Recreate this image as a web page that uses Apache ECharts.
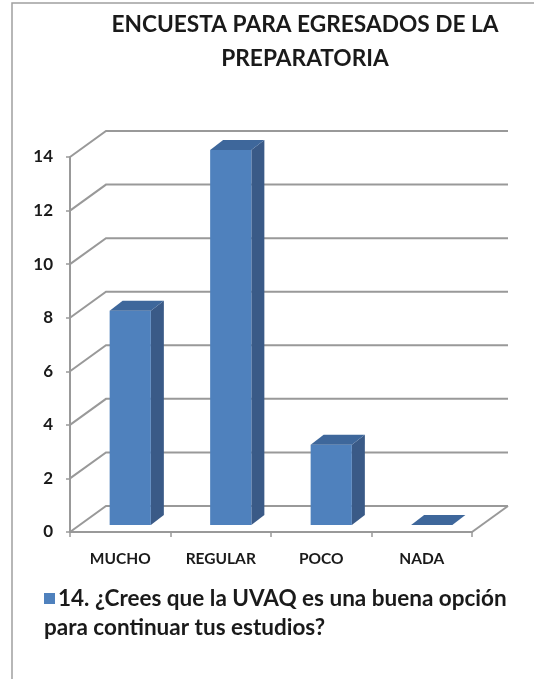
<!DOCTYPE html>
<html>
<head>
<meta charset="utf-8">
<script src="https://cdn.jsdelivr.net/npm/echarts@6/dist/echarts.min.js"></script>
<style>
html,body{margin:0;padding:0;background:#fff;}
#chart{width:534px;height:679px;}
</style>
</head>
<body>
<div id="chart"></div>
<script>
var titleLines = ['ENCUESTA PARA EGRESADOS DE LA', 'PREPARATORIA'];
var categories = ['MUCHO', 'REGULAR', 'POCO', 'NADA'];
var values = [8, 14, 3, 0];
var yTicks = [0, 2, 4, 6, 8, 10, 12, 14];
var seriesNameLines = ['14. ¿Crees que la UVAQ es una buena opción', 'para continuar tus estudios?'];
var seriesName = seriesNameLines.join(' ');

var FONT = 'Lato';
var DX = 36, DY = -26;       // floor/wall depth
var FX = 10, FY = -7;        // bar front face offset into depth
var BX = 13, BY = -10;       // bar depth
var GRID_COLOR = '#999999';

var chart = echarts.init(document.getElementById('chart'));

chart.setOption({
  backgroundColor: '#fff',
  animation: false,
  grid: { left: 70, right: 62, top: 157, bottom: 147 },
  xAxis: {
    type: 'category',
    data: categories,
    axisLine: { lineStyle: { color: GRID_COLOR, width: 2 } },
    axisTick: { show: true, length: 5, lineStyle: { color: GRID_COLOR, width: 1.5 } },
    axisLabel: { margin: 19, color: '#1a1a1a', fontFamily: FONT, fontWeight: 'bold', fontSize: 15.5 }
  },
  yAxis: {
    type: 'value',
    min: 0, max: 14, interval: 2,
    axisLine: { show: true, lineStyle: { color: GRID_COLOR, width: 2 } },
    axisTick: { show: true, length: 4, lineStyle: { color: GRID_COLOR, width: 1.5 } },
    splitLine: { show: false },
    axisLabel: { margin: 17, color: '#1a1a1a', fontFamily: FONT, fontWeight: 'bold', fontSize: 17 }
  },
  legend: {
    left: 44, top: 587, padding: 0,
    icon: 'rect', itemWidth: 11, itemHeight: 11, itemGap: 0,
    data: [seriesName],
    formatter: function () { return seriesNameLines[0]; },
    textStyle: { color: '#1a1a1a', fontFamily: FONT, fontWeight: 'bold', fontSize: 22.5, padding: [0, 0, 0, -2] }
  },
  graphic: [
    { type: 'rect', shape: { x: 12, y: 3, width: 700, height: 800 }, style: { fill: 'none', stroke: '#a0a0a0', lineWidth: 1.5 }, silent: true, z: -1 },
    { type: 'text', x: 305, y: 8, style: { text: titleLines.join('\n'), textAlign: 'center', fill: '#1a1a1a', font: 'bold 22.7px ' + FONT, lineHeight: 34 } },
    { type: 'text', x: 44, y: 616, style: { text: seriesNameLines[1], fill: '#1a1a1a', font: 'bold 22.5px ' + FONT } }
  ],
  series: [
    {
      type: 'custom',
      name: 'grid',
      silent: true,
      z: 1,
      data: yTicks.map(function (v) { return [0, v]; }),
      renderItem: function (params, api) {
        var cs = params.coordSys;
        var y = api.coord([0, api.value(1)])[1];
        var left = cs.x, right = cs.x + cs.width;
        var children = [{
          type: 'polyline',
          shape: { points: [[left, y], [left + DX, y + DY], [right + DX, y + DY]] },
          style: { stroke: GRID_COLOR, lineWidth: 2, fill: 'none' }
        }];
        if (api.value(1) === 0) {
          children.push({
            type: 'line',
            shape: { x1: right, y1: y, x2: right + DX, y2: y + DY },
            style: { stroke: GRID_COLOR, lineWidth: 2 }
          });
        }
        return { type: 'group', children: children };
      }
    },
    {
      type: 'custom',
      name: seriesName,
      z: 5,
      itemStyle: { color: '#4F81BD' },
      data: values.map(function (v, i) { return [i, v]; }),
      renderItem: function (params, api) {
        var i = api.value(0), v = api.value(1);
        var base = api.coord([i, 0]);
        var topP = api.coord([i, v]);
        var bw = api.size([1, 0])[0] * 0.41;
        var xl = base[0] - bw / 2 + FX;
        var xr = xl + bw;
        var yb = base[1] + FY;
        var yt = topP[1] + FY;
        var children = [];
        if (v > 0) {
          children.push({
            type: 'polygon',
            shape: { points: [[xr, yt], [xr + BX, yt + BY], [xr + BX, yb + BY], [xr, yb]] },
            style: { fill: '#3A5A87' }
          });
          children.push({
            type: 'rect',
            shape: { x: xl, y: yt, width: bw, height: yb - yt },
            style: { fill: '#4F81BD' }
          });
        }
        children.push({
          type: 'polygon',
          shape: { points: [[xl, yt], [xl + BX, yt + BY], [xr + BX, yt + BY], [xr, yt]] },
          style: { fill: '#3E679B' }
        });
        return { type: 'group', children: children };
      }
    }
  ]
});
</script>
</body>
</html>
